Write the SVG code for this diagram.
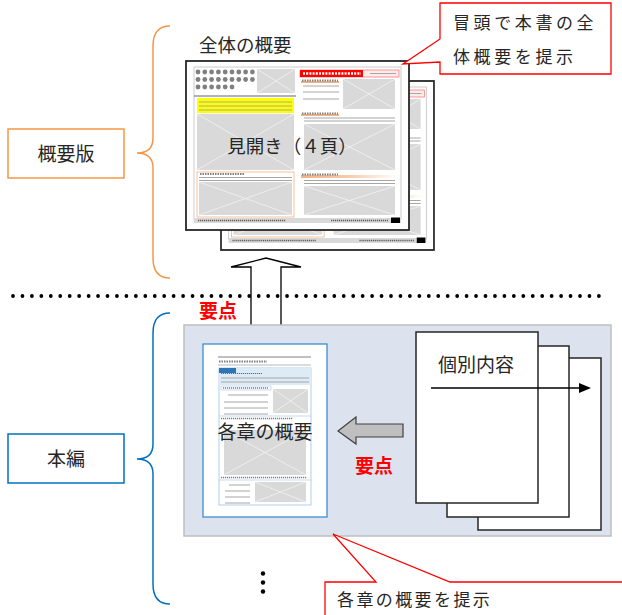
<svg xmlns="http://www.w3.org/2000/svg" xmlns:xlink="http://www.w3.org/1999/xlink" width="622" height="615" viewBox="0 0 622 615">
<style>
.t{font-family:"Noto Sans CJK JP","Noto Sans CJK SC",sans-serif;fill:#262626}
.red{font-family:"Noto Sans CJK JP",sans-serif;fill:#FF0000;font-weight:bold}
.ph{fill:#D9D9D9}
.phx{stroke:#F2F2F2;stroke-width:0.8}
.ln{stroke:#A6A6A6;stroke-width:1}
.dash{stroke:#7F7F7F;stroke-width:2;stroke-dasharray:1.5 1}
.page{fill:#FFFFFF;stroke:#262626;stroke-width:1.8}
</style>
<defs>
<symbol id="ph" viewBox="0 0 100 100" preserveAspectRatio="none" overflow="visible">
<rect class="ph" x="0" y="0" width="100" height="100"/>
<line class="phx" x1="0" y1="0" x2="100" y2="100" vector-effect="non-scaling-stroke"/>
<line class="phx" x1="100" y1="0" x2="0" y2="100" vector-effect="non-scaling-stroke"/>
</symbol>
<linearGradient id="og" x1="0" x2="1" y1="0" y2="0">
<stop offset="0" stop-color="#F4B183"/><stop offset="0.5" stop-color="#F8CBAD"/><stop offset="1" stop-color="#FFFFFF"/>
</linearGradient>
<g id="spread">
<rect class="page" x="0" y="0" width="223" height="169"/>
<rect x="8" y="6" width="207" height="152" fill="none" stroke="#BFBFBF" stroke-width="0.8"/>
<g fill="#808080">
<circle cx="12" cy="11" r="2.4"/><circle cx="18.8" cy="11" r="2.4"/><circle cx="25.6" cy="11" r="2.4"/><circle cx="32.4" cy="11" r="2.4"/><circle cx="39.2" cy="11" r="2.4"/><circle cx="46" cy="11" r="2.4"/><circle cx="52.8" cy="11" r="2.4"/><circle cx="59.6" cy="11" r="2.4"/><circle cx="66.4" cy="11" r="2.4"/>
<circle cx="12" cy="18.5" r="2.4"/><circle cx="18.8" cy="18.5" r="2.4"/><circle cx="25.6" cy="18.5" r="2.4"/><circle cx="32.4" cy="18.5" r="2.4"/><circle cx="39.2" cy="18.5" r="2.4"/><circle cx="46" cy="18.5" r="2.4"/><circle cx="52.8" cy="18.5" r="2.4"/><circle cx="59.6" cy="18.5" r="2.4"/><circle cx="66.4" cy="18.5" r="2.4"/>
<circle cx="12" cy="26" r="2.4"/><circle cx="18.8" cy="26" r="2.4"/><circle cx="25.6" cy="26" r="2.4"/><circle cx="32.4" cy="26" r="2.4"/><circle cx="39.2" cy="26" r="2.4"/><circle cx="46" cy="26" r="2.4"/>
</g>
<use xlink:href="#ph" x="71" y="8" width="38" height="24"/>
<line x1="8" y1="35" x2="110" y2="35" stroke="#404040" stroke-width="0.8"/>
<rect x="11" y="37" width="97" height="15" fill="#FFFF00"/>
<line class="ln" x1="13" y1="41" x2="106" y2="41"/><line class="ln" x1="13" y1="45" x2="106" y2="45"/><line class="ln" x1="13" y1="49" x2="106" y2="49"/>
<use xlink:href="#ph" x="11" y="53" width="97" height="56"/>
<rect x="11" y="111" width="97" height="45" fill="#FFFFFF" stroke="#F4B183" stroke-width="0.8"/>
<line class="dash" x1="14" y1="113" x2="58" y2="113"/>
<line class="ln" x1="13" y1="116.5" x2="106" y2="116.5"/><line class="ln" x1="13" y1="119.5" x2="106" y2="119.5"/>
<use xlink:href="#ph" x="13" y="121" width="93" height="33"/>
<rect x="114" y="9" width="99" height="7" fill="#FDECEC" stroke="#FF7C80" stroke-width="0.8"/>
<rect x="114" y="9" width="63" height="7" fill="#FF0000"/>
<line x1="117" y1="12.5" x2="175" y2="12.5" stroke="#FFFFFF" stroke-width="2.5" stroke-dasharray="2 1.2"/>
<line class="ln" x1="184" y1="12.5" x2="210" y2="12.5"/>
<rect x="115" y="20" width="38" height="2" fill="#F4B183"/>
<line class="dash" x1="116" y1="19.5" x2="152" y2="19.5"/>
<line class="ln" x1="117" y1="25" x2="153" y2="25"/><line class="ln" x1="117" y1="31" x2="153" y2="31"/><line class="ln" x1="117" y1="38" x2="153" y2="38"/>
<use xlink:href="#ph" x="157" y="18" width="52" height="30"/>
<rect x="115" y="53" width="38" height="2" fill="#F4B183"/>
<line class="dash" x1="116" y1="52.5" x2="152" y2="52.5"/>
<line class="ln" x1="118" y1="57" x2="209" y2="57"/><line class="ln" x1="118" y1="60" x2="209" y2="60"/>
<use xlink:href="#ph" x="118" y="63" width="91" height="46"/>
<rect x="115" y="114" width="97" height="3" fill="url(#og)"/>
<line class="dash" x1="116" y1="113.5" x2="152" y2="113.5"/>
<line class="ln" x1="118" y1="119.5" x2="209" y2="119.5"/><line class="ln" x1="118" y1="122.5" x2="209" y2="122.5"/>
<use xlink:href="#ph" x="118" y="125" width="91" height="29"/>
<rect x="8" y="157" width="207" height="5" fill="#D9D9D9"/>
<line x1="12" y1="159.5" x2="100" y2="159.5" stroke="#595959" stroke-width="1.5" stroke-dasharray="1.2 0.8"/>
<line x1="145" y1="159.5" x2="202" y2="159.5" stroke="#595959" stroke-width="1.5" stroke-dasharray="1.2 0.8"/>
<rect x="205" y="156.5" width="9" height="5.5" fill="#000000"/>
</g>
</defs>

<g id="connectors">
<line x1="13" y1="296" x2="608" y2="296" stroke="#000" stroke-width="3.8" stroke-linecap="round" stroke-dasharray="0 9.45"/>
</g>

<g id="brace-overview">
<path d="M170,26 C158,26 153,34 153,46 V138 C153,148 148,153 137,153 C148,153 153,158 153,168 V258 C153,270 158,278 170,278" fill="none" stroke="#F79646" stroke-width="1.5"/>
</g>
<g id="label-overview">
<rect x="8" y="129" width="116" height="49" fill="#FFFFFF" stroke="#F79646" stroke-width="1.5"/>
<text class="t" x="66" y="161" font-size="19" text-anchor="middle">概要版</text>
</g>

<g id="brace-main">
<path d="M170,313 C158,313 153,321 153,333 V444 C153,454 148,459 137,459 C148,459 153,464 153,474 V584 C153,596 158,604 170,604" fill="none" stroke="#0070C0" stroke-width="1.5"/>
</g>
<g id="label-main">
<rect x="8" y="434" width="116" height="49" fill="#FFFFFF" stroke="#0070C0" stroke-width="1.5"/>
<text class="t" x="66" y="466" font-size="19" text-anchor="middle">本編</text>
</g>

<g id="overview-pages">
<text class="t" x="199" y="52" font-size="18.5">全体の概要</text>
<use xlink:href="#spread" transform="translate(221,81) scale(0.955,1)"/>
<use xlink:href="#spread" transform="translate(186,61)"/>
<text class="t" x="292" y="153" font-size="18.5" text-anchor="middle">見開き（４頁）</text>
</g>

<g id="callout-top">
<path d="M440,3 H611 V74 H440 V62 L403,64 L440,39 Z" fill="#FFFFFF" stroke="#FF0000" stroke-width="1.3"/>
<text class="t" x="453" y="29" font-size="17" letter-spacing="3.6">冒頭で本書の全</text>
<text class="t" x="453" y="63" font-size="17" letter-spacing="3.6">体概要を提示</text>
</g>

<g id="arrow-up">
<path d="M251,325 V267 H231 L266,258 L301,267 H281 V325" fill="none" stroke="#000" stroke-width="1.3"/>
</g>
<text class="red" x="199" y="318" font-size="19">要点</text>

<g id="main-panel">
<rect x="184" y="325" width="427" height="211" fill="#DCE3EE" stroke="#BFBFBF" stroke-width="1.5"/>
</g>

<g id="chapter-summary">
<rect x="203" y="344" width="124" height="173" fill="#FFFFFF" stroke="#2E86D0" stroke-width="1.2"/>
<line x1="218" y1="357" x2="311" y2="357" stroke="#808080" stroke-width="1"/>
<line class="dash" x1="219" y1="361.5" x2="267" y2="361.5" stroke-width="1.6"/>
<line x1="218" y1="365" x2="311" y2="365" stroke="#A6A6A6" stroke-width="0.8"/>
<rect x="219" y="368" width="92" height="137" fill="#FFFFFF" stroke="#9DC3E6" stroke-width="0.8"/>
<rect x="219" y="368" width="92" height="17" fill="#DDEBF7"/>
<rect x="219" y="368" width="17" height="5" fill="#2E75B6"/>
<line x1="221" y1="373.5" x2="262" y2="373.5" stroke="#2E75B6" stroke-width="1.2" stroke-dasharray="1.2 0.8"/>
<line class="ln" x1="221" y1="378" x2="309" y2="378"/><line class="ln" x1="221" y1="382" x2="309" y2="382"/>
<rect x="221" y="386" width="50" height="4" fill="#FFFFFF" stroke="#9DC3E6" stroke-width="0.6"/>
<line x1="223" y1="388" x2="268" y2="388" stroke="#7F7F7F" stroke-width="1.5" stroke-dasharray="1.2 0.8"/>
<line class="ln" x1="228" y1="395" x2="268" y2="395"/><line class="ln" x1="224" y1="402" x2="268" y2="402"/><line class="ln" x1="224" y1="408" x2="268" y2="408"/><line class="ln" x1="224" y1="414" x2="268" y2="414"/>
<use xlink:href="#ph" x="273" y="389" width="35" height="24"/>
<line x1="219" y1="416" x2="311" y2="416" stroke="#9DC3E6" stroke-width="0.6"/>
<line x1="221" y1="418.5" x2="293" y2="418.5" stroke="#7F7F7F" stroke-width="1.5" stroke-dasharray="1.2 0.8"/>
<use xlink:href="#ph" x="224" y="430" width="82" height="45"/>
<line x1="221" y1="477.5" x2="307" y2="477.5" stroke="#7F7F7F" stroke-width="1.5" stroke-dasharray="1.2 0.8"/>
<line x1="219" y1="480" x2="311" y2="480" stroke="#9DC3E6" stroke-width="0.6"/>
<line class="ln" x1="229" y1="485" x2="250" y2="485"/><line class="ln" x1="225" y1="491" x2="250" y2="491"/><line class="ln" x1="225" y1="497" x2="250" y2="497"/><line class="ln" x1="225" y1="503" x2="250" y2="503"/>
<use xlink:href="#ph" x="255" y="482" width="51" height="20"/>
<text class="t" x="265" y="439" font-size="19" text-anchor="middle">各章の概要</text>
</g>

<g id="arrow-left">
<path d="M338,431 L356,417 V424 H403 V437 H356 V444 Z" fill="#BFBFBF" stroke="#404040" stroke-width="1.2"/>
</g>
<text class="red" x="355" y="473" font-size="19">要点</text>

<g id="individual-pages">
<rect x="478" y="358" width="123" height="172" fill="#FFFFFF" stroke="#262626" stroke-width="1.5"/>
<rect x="447" y="346" width="122" height="171" fill="#FFFFFF" stroke="#262626" stroke-width="1.5"/>
<rect x="416" y="332" width="122" height="171" fill="#FFFFFF" stroke="#262626" stroke-width="1.5"/>
<text class="t" x="438" y="372" font-size="19">個別内容</text>
<line x1="431" y1="388" x2="580" y2="388" stroke="#000" stroke-width="1.5"/>
<path d="M591,388 L579,383 V393 Z" fill="#000"/>
</g>

<g id="callout-bottom">
<path d="M325,616 V582 H376 L333,534 L450,582 H623 V616" fill="#FFFFFF" stroke="#FF0000" stroke-width="1.3"/>
<text class="t" x="337" y="606" font-size="17" letter-spacing="2.4">各章の概要を提示</text>
</g>

<g id="ellipsis" fill="#000">
<circle cx="263" cy="573.5" r="2.2"/><circle cx="263" cy="582.5" r="2.2"/><circle cx="263" cy="591.5" r="2.2"/>
</g>
</svg>
